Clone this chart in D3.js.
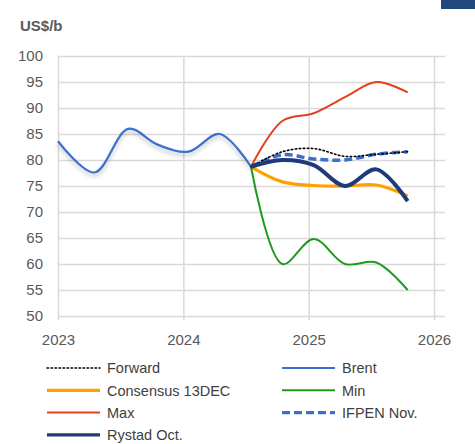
<!DOCTYPE html>
<html>
<head>
<meta charset="utf-8">
<script src="https://cdn.jsdelivr.net/npm/d3@7"></script>
<style>
  body { margin: 0; background: #fff; }
  svg { font-family: "Liberation Sans", Arial, sans-serif; }
  .tick text { fill: #595959; font-size: 15px; }
  .legend text { fill: #404040; font-size: 14.5px; }
</style>
</head>
<body>
<div class="svg_area"></div>
<script>
// Brent history and forecast scenarios (US$/b)
var brentYears = [2023.0, 2023.29, 2023.56, 2023.79, 2024.04, 2024.29, 2024.54];
var brent = [83.6, 77.6, 86.0, 83.0, 81.6, 85.0, 78.7];

var forecastYears = [2024.54, 2024.79, 2025.04, 2025.29, 2025.54, 2025.79];
var forward = [78.7, 81.6, 82.2, 80.7, 81.1, 81.6];
var consensus = [78.7, 75.8, 75.1, 75.0, 75.2, 73.1];
var minCase = [78.7, 60.0, 64.8, 60.0, 60.3, 55.0];
var maxCase = [78.7, 87.5, 89.0, 92.1, 95.0, 93.0];
var ifpen = [78.7, 81.0, 80.2, 80.0, 81.1, 81.6];
var rystad = [78.7, 80.0, 79.0, 75.0, 78.2, 72.1];

var yearTicks = [2023, 2024, 2025, 2026];
var priceTicks = [50, 55, 60, 65, 70, 75, 80, 85, 90, 95, 100];

var svgWidth = 475;
var svgHeight = 444;

var svg = d3.select(".svg_area")
  .append("svg")
  .attr("width", svgWidth)
  .attr("height", svgHeight);

// soft shadow under the Brent line
var filt = svg.append("defs").append("filter")
  .attr("id", "shadow")
  .attr("x", "-10%").attr("y", "-20%")
  .attr("width", "120%").attr("height", "160%");
filt.append("feDropShadow")
  .attr("dx", 0).attr("dy", 3)
  .attr("stdDeviation", 2)
  .attr("flood-color", "#000")
  .attr("flood-opacity", 0.25);

// corner tab
svg.append("rect")
  .attr("x", 441).attr("y", 0)
  .attr("width", 34).attr("height", 9)
  .attr("fill", "#1f497d");

var x = d3.scaleLinear().domain([2023, 2026]).range([58, 434]);
var y = d3.scaleLinear().domain([50, 100]).range([316, 56]);
var plotRight = 445;

// gridlines + labels via axes
var leftAxis = d3.axisLeft(y)
  .tickValues(priceTicks)
  .tickSize(-(plotRight - 58))
  .tickPadding(15)
  .tickFormat(d3.format("d"));

var gy = svg.append("g")
  .attr("transform", "translate(58,0)")
  .call(leftAxis);
gy.select(".domain").remove();
gy.selectAll(".tick line").attr("stroke", "#d9d9d9").attr("stroke-width", 1.5);

var bottomAxis = d3.axisBottom(x)
  .tickValues(yearTicks)
  .tickSize(-(320 - 56))
  .tickPadding(14)
  .tickFormat(d3.format("d"));

var gx = svg.append("g")
  .attr("transform", "translate(0,320)")
  .call(bottomAxis);
gx.select(".domain").remove();
gx.selectAll(".tick line").attr("stroke", "#d9d9d9").attr("stroke-width", 1.5);

// unit label
svg.append("text")
  .attr("x", 20)
  .attr("y", 31)
  .attr("fill", "#595959")
  .attr("font-size", "15px")
  .attr("font-weight", "bold")
  .text("US$/b");

var line = d3.line()
  .x(d => x(d[0]))
  .y(d => y(d[1]))
  .curve(d3.curveCatmullRom.alpha(0.5));

var series = [
  { name: "Forward", xs: forecastYears, vals: forward, color: "#000000", width: 1.6, dash: "1.5,2.5", cap: "round" },
  { name: "Brent", xs: brentYears, vals: brent, color: "#3b6fce", width: 2.2, dash: null, shadow: true },
  { name: "Consensus 13DEC", xs: forecastYears, vals: consensus, color: "#ffa000", width: 3.2, dash: null },
  { name: "Min", xs: forecastYears, vals: minCase, color: "#1e9a1e", width: 2, dash: null },
  { name: "Max", xs: forecastYears, vals: maxCase, color: "#e3401d", width: 2, dash: null },
  { name: "IFPEN Nov.", xs: forecastYears, vals: ifpen, color: "#3b6fce", width: 3.5, dash: "8,4" },
  { name: "Rystad Oct.", xs: forecastYears, vals: rystad, color: "#1f3b77", width: 4, dash: null }
];

// draw order: Brent first, then forecasts
var drawOrder = [1, 2, 3, 4, 5, 0, 6];
drawOrder.forEach(function(i) {
  var s = series[i];
  var pts = s.xs.map((t, k) => [t, s.vals[k]]);
  var p = svg.append("path")
    .attr("d", line(pts))
    .attr("fill", "none")
    .attr("stroke", s.color)
    .attr("stroke-width", s.width)
    .attr("stroke-linecap", s.cap || "butt")
    .attr("stroke-linejoin", "round");
  if (s.dash) p.attr("stroke-dasharray", s.dash);
  if (s.shadow) p.attr("filter", "url(#shadow)");
});

// legend, two columns
var legend = svg.append("g").attr("class", "legend");
series.forEach(function(s, i) {
  var col = i % 2;
  var row = Math.floor(i / 2);
  var lx = col === 0 ? 47 : 282;
  var ly = 368 + row * 22.3;
  legend.append("line")
    .attr("x1", lx).attr("x2", lx + 53)
    .attr("y1", ly).attr("y2", ly)
    .attr("stroke", s.color)
    .attr("stroke-width", s.name === "Forward" ? 1.6 : Math.min(s.width, 3.2))
    .attr("stroke-linecap", s.cap || "butt")
    .attr("stroke-dasharray", s.dash);
  legend.append("text")
    .attr("x", lx + 60)
    .attr("y", ly)
    .attr("dy", "0.36em")
    .text(s.name);
});
</script>
</body>
</html>
